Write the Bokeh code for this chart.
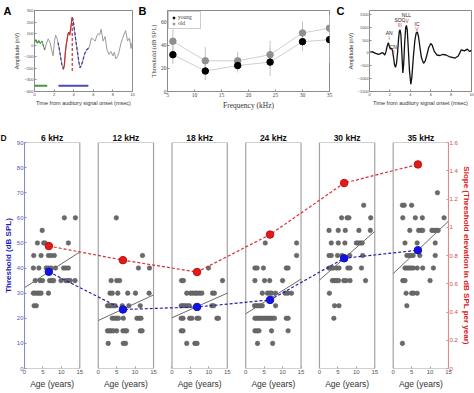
import numpy as np
from bokeh.plotting import figure
from bokeh.models import (Range1d, LinearAxis, FixedTicker, Label, Legend, LegendItem,
                          NumeralTickFormatter)
from bokeh.layouts import column, row
from bokeh.embed import file_html
from bokeh.resources import INLINE

# ---------------- Panel A data (single ABR trace, nV vs msec) ----------------
a_time = [0.0, 0.15, 0.3, 0.45, 0.6, 0.75, 0.9, 1.05, 1.2, 1.4, 1.6, 1.75, 1.9, 2.05, 2.15,
          2.3, 2.4, 2.55, 2.7, 2.8, 2.95, 3.05, 3.15, 3.25, 3.4, 3.5, 3.6, 3.7, 3.85, 3.95,
          4.1, 4.2, 4.35, 4.55, 4.65, 4.8, 4.9, 5.1, 5.3, 5.45, 5.6, 5.8, 6.0, 6.2, 6.35,
          6.5, 6.65, 6.8, 7.0, 7.2, 7.4, 7.6, 7.8, 8.0, 8.15, 8.3, 8.45, 8.6, 8.8, 9.0,
          9.1, 9.3, 9.5, 9.7, 9.85, 10.0]
a_amp = [23, 49, 15, 41, 15, 36, -3, -41, 10, 56, 20, -40, -92, 40, 87,
         60, 23, -41, -120, -170, -208, -170, -60, 10, 90, 113, 87, 150, 241, 215,
         113, 50, -41, -156, -195, -170, -144, -79, -41, -30, -15, 62, 50, 36, 80,
         100, 90, 138, 36, 75, -41, -79, -54, -92, -60, -118, -100, -67, 10, 60,
         87, 126, 36, 62, -28, 36]
a_green_win = (0.0, 1.05)
a_blue1_win = (2.4, 2.95)
a_red_win = (2.95, 3.85)
a_blue2_win = (3.85, 5.6)
a_bar_green = (0.0, 1.3)
a_bar_blue = (2.45, 5.5)
a_bar_level = -350

# ---------------- Panel B data ----------------
b_freq = [6, 12, 18, 24, 30, 35]
b_young = [31.8, 17.7, 22.4, 25.4, 43.1, 44.8]
b_old = [43.4, 26.5, 26.5, 31.8, 50.6, 54.7]
b_young_sd = [8, 8, 6, 12, 8, 20]
b_old_sd = [12, 12, 8, 12, 10, 12]

# ---------------- Panel C data (grand average ABR) ----------------
c_time = [0.0, 0.3, 0.6, 0.9, 1.1, 1.3, 1.5, 1.62, 1.72, 1.85, 1.95, 2.05, 2.15, 2.25,
          2.35, 2.45, 2.55, 2.65, 2.75, 2.85, 2.93, 3.0, 3.08, 3.17, 3.27, 3.35, 3.45,
          3.55, 3.62, 3.7, 3.8, 3.92, 4.05, 4.15, 4.3, 4.45, 4.58, 4.68, 4.8, 4.95,
          5.1, 5.3, 5.45, 5.6, 5.8, 6.0, 6.15, 6.35, 6.6, 6.9, 7.2, 7.5, 7.8, 8.1,
          8.4, 8.7, 9.0, 9.3, 9.6, 9.8, 10.0]
c_amp = [30, 40, -20, -60, -20, 10, -80, 50, 250, 400, 250, 150, 180, 100,
         -150, -450, -560, -400, 0, 550, 850, 900, 700, 0, -780, -450, 400,
         980, 1070, 900, 200, -700, -1220, -950, -150, 500, 780, 820, 650, 200,
         -200, -400, -330, -120, 200, 370, 300, 60, -80, -100, -60, -80, -140, -170,
         -200, -120, 120, 80, 150, 60, 100]
c_names = ["AN", "CN", "SOC", "NLL", "IC"]
c_waves = ["I", "II", "III", "IV", "V"]
c_label_t = [1.93, 2.34, 2.97, 3.62, 4.66]
c_name_y = [790, 250, 1290, 1475, 1140]
c_wave_y = [575, 40, 1075, 1260, 940]

# ---------------- Panel D data ----------------
d_titles = ["6 kHz", "12 kHz", "18 kHz", "24 kHz", "30 kHz", "35 kHz"]
d6_age = [10.8, 13.8, 4.8, 3.5, 5.2, 5.6, 11.9, 2.5, 4.5, 6.5, 7.2, 8.1,
          2.4, 3.9, 5.9, 6.5, 7.2, 8.4, 10.6, 11.2, 11.9,
          2.9, 4.2, 4.9, 6.8, 7.4, 7.9, 9.9, 11.2, 11.8, 12.4, 13.7,
          2.4, 2.9, 3.5, 4.0, 4.5, 6.5, 2.6, 3.2]
d6_thr = [60, 60, 55, 50, 50, 50, 50, 45, 45, 45, 45, 45,
          40, 40, 40, 40, 40, 40, 40, 40, 40,
          35, 35, 35, 35, 35, 35, 35, 35, 35, 35, 35,
          30, 30, 30, 30, 30, 30, 25, 25]
d12_age = [4.9, 12.0, 10.9, 13.9, 3.5, 5.0, 5.8,
           3.2, 3.8, 5.3, 8.0, 10.1, 13.8,
           2.5, 3.0, 3.5, 4.1, 4.6, 6.5, 8.3, 11.4,
           3.8, 4.4, 5.0, 5.5, 6.8, 10.5, 11.1, 11.6,
           2.5, 3.0, 3.5, 4.1, 5.0, 6.7, 7.3, 7.7, 11.4, 11.9,
           2.7, 6.8, 7.4]
d12_thr = [60, 45, 40, 40, 35, 35, 35,
           30, 30, 30, 30, 30, 30,
           25, 25, 25, 25, 25, 25, 25, 25,
           20, 20, 20, 20, 20, 20, 20, 20,
           15, 15, 15, 15, 15, 15, 15, 15, 15, 15,
           10, 10, 10]
d18_age = [9.9, 2.6, 3.1, 13.7,
           4.0, 5.0, 5.6, 6.3, 6.8, 7.5, 8.1, 11.0, 11.5,
           2.5, 3.0, 3.5, 4.1, 4.7, 6.8, 10.8, 11.3,
           2.5, 3.0, 4.8, 5.4, 6.8, 7.3, 12.2, 12.6,
           2.5, 3.0, 4.0, 6.2, 6.8]
d18_thr = [40, 35, 35, 35,
           30, 30, 30, 30, 30, 30, 30, 30, 30,
           25, 25, 25, 25, 25, 25, 25, 25,
           20, 20, 20, 20, 20, 20, 20, 20,
           15, 15, 10, 10, 10]
d24_age = [5.3, 13.8, 13.8, 2.5, 3.1, 4.8, 11.0, 11.5,
           2.5, 5.1, 6.5, 10.0,
           4.5, 5.9, 6.5, 7.0, 8.1, 10.7, 11.4, 12.4,
           2.4, 2.9, 3.5, 4.0, 4.5, 8.1,
           2.5, 3.0, 3.5, 4.0, 4.6, 5.1, 5.7, 6.2, 6.7, 7.2, 7.8, 11.0, 11.5,
           2.5, 3.1, 3.6, 7.0, 11.5, 3.2, 7.3]
d24_thr = [50, 50, 45, 40, 40, 40, 40, 40,
           35, 35, 35, 35,
           30, 30, 30, 30, 30, 30, 30, 30,
           25, 25, 25, 25, 25, 25,
           20, 20, 20, 20, 20, 20, 20, 20, 20, 20, 20, 20, 20,
           15, 15, 15, 15, 15, 10, 10]
d30_age = [12.0, 6.0, 7.5, 8.0, 13.9, 2.6, 5.1, 7.0, 10.7, 13.8,
           3.2, 5.1, 6.9, 10.0, 10.5, 11.1, 11.6,
           2.6, 3.2, 4.9, 6.1, 8.2, 11.7,
           2.6, 3.2, 3.7, 4.6, 5.3, 7.7, 8.3, 11.4,
           3.5, 4.1, 4.6, 5.2, 6.6, 7.2, 8.3, 12.5,
           2.7, 4.1, 5.3, 3.9]
d30_thr = [65, 60, 60, 60, 60, 55, 55, 55, 55, 55,
           50, 50, 50, 50, 50, 50, 50,
           45, 45, 45, 45, 45, 45,
           40, 40, 40, 40, 40, 40, 40, 40,
           35, 35, 35, 35, 35, 35, 35, 35,
           30, 25, 25, 20]
d35_age = [12.0, 2.5, 3.0, 5.0, 2.6, 6.0, 7.9, 13.8,
           4.5, 6.9, 7.5, 8.0, 10.5, 11.1, 11.6, 12.2,
           3.2, 6.5, 11.4,
           3.7, 4.3, 4.8, 5.4, 7.2, 11.4,
           3.2, 3.7, 4.3, 4.8, 5.4, 6.5, 8.0, 10.9,
           2.6, 3.2, 10.0, 3.5, 5.0, 5.5, 6.5, 3.7, 2.5]
d35_thr = [70, 65, 65, 65, 60, 60, 60, 60,
           55, 55, 55, 55, 55, 55, 55, 55,
           50, 50, 50,
           45, 45, 45, 45, 45, 45,
           40, 40, 40, 40, 40, 40, 40, 40,
           35, 35, 35, 30, 30, 30, 30, 25, 10]
d_mean_age = [6.6, 6.7, 6.8, 6.6, 6.7, 6.7]
d_thr_mean = [38.5, 23.5, 24.5, 27.3, 43.9, 47.1]
d_slope = [0.867, 0.767, 0.683, 0.948, 1.313, 1.445]
d_fit_start = [32.2, 19.1, 20.2, 21.8, 35.2, 37.8]
d_fit_end = [46.4, 29.3, 30.0, 35.6, 54.6, 58.7]
d_age_ticks = [0, 5, 10, 15]
d_thr_ticks = [0, 10, 20, 30, 40, 50, 60, 70, 80, 90]
d_slope_ticks = [0, 0.2, 0.4, 0.6, 0.8, 1, 1.2, 1.4, 1.6]

SANS = "Liberation Sans"
SERIF = "Liberation Serif"
FRAME = "#8c8c8c"


def style(p, font, tick_size, label_size):
    p.xgrid.visible = False
    p.ygrid.visible = False
    p.outline_line_color = FRAME
    p.background_fill_color = "white"
    p.border_fill_color = "white"
    for ax in list(p.xaxis) + list(p.yaxis):
        ax.major_label_text_font = font
        ax.major_label_text_font_size = tick_size
        ax.axis_label_text_font = font
        ax.axis_label_text_font_size = label_size
        ax.axis_label_text_font_style = "normal"
        ax.minor_tick_line_color = None
        ax.major_tick_in = 2
        ax.major_tick_out = 0
        ax.axis_line_color = FRAME
        ax.major_tick_line_color = FRAME
        ax.major_label_standoff = 1
        ax.axis_label_standoff = 1
        ax.major_label_text_color = "#444444"
        ax.axis_label_text_color = "#333333"


def letter_axis(p, top, letter):
    """Panel letter drawn as the single tick label of an extra, line-less left axis."""
    ax = LinearAxis(ticker=FixedTicker(ticks=[top]), major_label_overrides={top: letter})
    ax.axis_line_color = None
    ax.major_tick_line_color = None
    ax.minor_tick_line_color = None
    ax.major_tick_in = 0
    ax.major_tick_out = 0
    ax.major_label_standoff = 0
    ax.major_label_text_font = SANS
    ax.major_label_text_font_style = "bold"
    ax.major_label_text_font_size = "11px"
    ax.major_label_text_color = "black"
    p.add_layout(ax, "left")


def window(t, v, win):
    t = np.asarray(t, float)
    v = np.asarray(v, float)
    m = (t >= win[0] - 1e-9) & (t <= win[1] + 1e-9)
    return t[m], v[m]


ROW_H = 129
TOTAL_W, TOTAL_H = 474, 393

# ================= Panel A =================
pA = figure(width=135, height=ROW_H, x_range=Range1d(0, 10), y_range=Range1d(-400, 300),
            output_backend="svg", toolbar_location=None,
            min_border_left=20, min_border_right=3, min_border_top=6, min_border_bottom=32)
pA.line(a_time, a_amp, line_color="#9a9a9a", line_width=1)
tg, vg = window(a_time, a_amp, a_green_win)
pA.line(tg, vg, line_color="#3f9a3f", line_width=1.2, line_dash="3 1")
for w in (a_blue1_win, a_blue2_win):
    tb, vb = window(a_time, a_amp, w)
    pA.line(tb, vb, line_color="#3a3ab0", line_width=1.2, line_dash="3 2")
tr, vr = window(a_time, a_amp, a_red_win)
pA.line(tr, vr, line_color="#d02a2a", line_width=1.2)
pA.segment(x0=[tr[-1]], y0=[vr.min() - 15], x1=[tr[-1]], y1=[vr.max()],
           line_color="#d02a2a", line_width=1.2, line_dash="3 2")
pA.segment(x0=[a_bar_green[0]], y0=[a_bar_level], x1=[a_bar_green[1]], y1=[a_bar_level],
           line_color="#3f9a3f", line_width=2)
pA.segment(x0=[a_bar_blue[0]], y0=[a_bar_level], x1=[a_bar_blue[1]], y1=[a_bar_level],
           line_color="#4a4ab8", line_width=2)
pA.xaxis.ticker = FixedTicker(ticks=[0, 2, 4, 6, 8, 10])
pA.yaxis.ticker = FixedTicker(ticks=list(range(-400, 301, 100)))
pA.xaxis.axis_label = "Time from auditory signal onset (msec)"
pA.yaxis.axis_label = "Amplitude (nV)"
style(pA, SANS, "4px", "5.5px")
letter_axis(pA, 300, "A")

# ================= Panel B =================
pB = figure(width=198, height=ROW_H, x_range=Range1d(5, 35), y_range=Range1d(0, 70),
            output_backend="svg", toolbar_location=None,
            min_border_left=22, min_border_right=4, min_border_top=5, min_border_bottom=38)
fy = np.array(b_freq, float)
by = np.array(b_young, float)
bo = np.array(b_old, float)
pB.segment(x0=fy, y0=bo - np.array(b_old_sd), x1=fy, y1=bo + np.array(b_old_sd),
           line_color="#c4c4c4", line_width=1)
pB.segment(x0=fy, y0=by - np.array(b_young_sd), x1=fy, y1=by + np.array(b_young_sd),
           line_color="#c4c4c4", line_width=1)
pB.line(fy, bo, line_color="#cfcfcf", line_width=1)
pB.line(fy, by, line_color="#cfcfcf", line_width=1)
r_old = pB.scatter(fy, bo, marker="circle", size=6.5, fill_color="#8f8f8f", line_color="#8f8f8f")
r_young = pB.scatter(fy, by, marker="circle", size=6.5, fill_color="black", line_color="black")
pB.xaxis.ticker = FixedTicker(ticks=[5, 10, 15, 20, 25, 30, 35])
pB.yaxis.ticker = FixedTicker(ticks=[0, 20, 40, 60])
pB.xaxis.axis_label = "Frequency (kHz)"
pB.yaxis.axis_label = "Threshold (dB SPL)"
style(pB, SERIF, "5.5px", "7.5px")
pB.yaxis.axis_label_text_font_size = "6.5px"
leg = Legend(items=[LegendItem(label="young", renderers=[r_young]),
                    LegendItem(label="old", renderers=[r_old])],
             location="top_left", label_text_font=SERIF, label_text_font_size="5.5px",
             glyph_width=5, glyph_height=5, label_height=5, label_standoff=2,
             spacing=0, padding=2, margin=1, border_line_color="#9a9a9a",
             background_fill_alpha=1)
pB.add_layout(leg)
letter_axis(pB, 70, "B")

# ================= Panel C =================
pC = figure(width=TOTAL_W - 135 - 198, height=ROW_H, x_range=Range1d(0, 10),
            y_range=Range1d(-1500, 1650), output_backend="svg", toolbar_location=None,
            min_border_left=25, min_border_right=3, min_border_top=10, min_border_bottom=35)
pC.line(c_time, c_amp, line_color="#111111", line_width=1.3)
pC.xaxis.ticker = FixedTicker(ticks=[0, 2, 4, 6, 8, 10])
pC.yaxis.ticker = FixedTicker(ticks=[-1500, -1000, -500, 0, 500, 1000, 1500])
pC.xaxis.axis_label = "Time from auditory signal onset (msec)"
pC.yaxis.axis_label = "Amplitude (nV)"
style(pC, SANS, "3.8px", "5.5px")
for nm, wv, t, yn, yw in zip(c_names, c_waves, c_label_t, c_name_y, c_wave_y):
    pC.add_layout(Label(x=t, y=yw, text=wv, text_font=SANS, text_font_size="5px",
                        text_align="center", text_baseline="middle", text_color="#cc3a3a"))
    pC.add_layout(Label(x=t, y=yn, text=nm, text_font=SANS, text_font_size="5px",
                        text_align="center", text_baseline="middle", text_color="#222222"))
letter_axis(pC, 1650, "C")

# ================= Panel D =================
pD = figure(width=TOTAL_W, height=TOTAL_H - ROW_H, x_range=Range1d(0, 115),
            y_range=Range1d(0, 90), output_backend="svg", toolbar_location=None,
            min_border_left=22, min_border_right=26, min_border_top=12, min_border_bottom=25)
ax_bot = pD.xaxis[0]
ax_left = pD.yaxis[0]
pD.extra_y_ranges = {"slope": Range1d(0, 1.6)}
offs = np.arange(6) * 20.0
pD.quad(left=offs, right=offs + 15, bottom=0, top=90, fill_color=None,
        line_color="#a2a2a2", line_width=1.2)
ages = [d6_age, d12_age, d18_age, d24_age, d30_age, d35_age]
thrs = [d6_thr, d12_thr, d18_thr, d24_thr, d30_thr, d35_thr]
xs, ys = [], []
for o, a, t in zip(offs, ages, thrs):
    xs += list(np.array(a) + o)
    ys += list(t)
pD.scatter(xs, ys, marker="circle", size=4.6, fill_color="#6a6a6a", line_color="#585858",
           line_width=0.5)
pD.segment(x0=offs, y0=d_fit_start, x1=offs + 15, y1=d_fit_end, line_color="#6a6a6a",
           line_width=1)
mx = offs + np.array(d_mean_age)
pD.line(mx, d_thr_mean, line_color="#2424a8", line_width=1.2, line_dash="3 2")
pD.line(mx, d_slope, y_range_name="slope", line_color="#d83030", line_width=1.2,
        line_dash="3 2")
pD.scatter(mx, d_thr_mean, marker="circle", size=7.5, fill_color="#1212e6",
           line_color="#1010c0")
pD.scatter(mx, d_slope, y_range_name="slope", marker="circle", size=7.5,
           fill_color="#e21a1a", line_color="#c01010")

ax_r = LinearAxis(y_range_name="slope")
pD.add_layout(ax_r, "right")
centers = [float(o + 7.5) for o in offs]
top_labels = {c: t for c, t in zip(centers, d_titles)}
top_labels[0.0] = "D" + "\u00a0" * 19
ax_top = LinearAxis(ticker=FixedTicker(ticks=[0.0] + centers),
                    major_label_overrides=top_labels)
pD.add_layout(ax_top, "above")
ax_age = LinearAxis(ticker=FixedTicker(ticks=centers),
                    major_label_overrides={c: "Age (years)" for c in centers})
pD.add_layout(ax_age, "below")
style(pD, SANS, "6px", "8.5px")
xt = [int(o + t) for o in offs for t in d_age_ticks]
ax_bot.ticker = FixedTicker(ticks=xt)
ax_bot.major_label_overrides = {int(o + t): str(t) for o in offs for t in d_age_ticks}
ax_bot.axis_line_color = None
ax_bot.major_label_text_color = "#555555"
ax_bot.major_tick_line_color = "#a2a2a2"
for ax, sz, bold, col, so in ((ax_top, "8.5px", "bold", "#111111", 0),
                              (ax_age, "8.5px", "normal", "#333333", 2)):
    ax.axis_line_color = None
    ax.major_tick_line_color = None
    ax.major_tick_in = 0
    ax.major_label_text_font_size = sz
    ax.major_label_text_font_style = bold
    ax.major_label_text_color = col
    ax.major_label_standoff = so
ax_left.ticker = FixedTicker(ticks=d_thr_ticks)
ax_left.axis_label = "Threshold (dB SPL)"
ax_left.axis_label_text_color = "#1e1eb4"
ax_left.axis_label_text_font_style = "bold"
ax_left.axis_label_text_font_size = "8px"
ax_left.major_label_text_color = "#5a5ab0"
ax_left.axis_line_color = "#8a8ac8"
ax_left.major_tick_line_color = "#8a8ac8"
ax_r.ticker = FixedTicker(ticks=d_slope_ticks)
ax_r.formatter = NumeralTickFormatter(format="0.[0]")
ax_r.axis_label = "Slope (Threshold elevation in dB SPL per year)"
ax_r.axis_label_text_color = "#dc2020"
ax_r.axis_label_text_font_style = "bold"
ax_r.axis_label_text_font_size = "8px"
ax_r.major_label_text_color = "#c85050"
ax_r.axis_line_color = "#e08a8a"
ax_r.major_tick_line_color = "#e08a8a"
pD.outline_line_color = None

layout = column(row(pA, pB, pC), pD)
open("out.html", "w").write(file_html(layout, INLINE))
